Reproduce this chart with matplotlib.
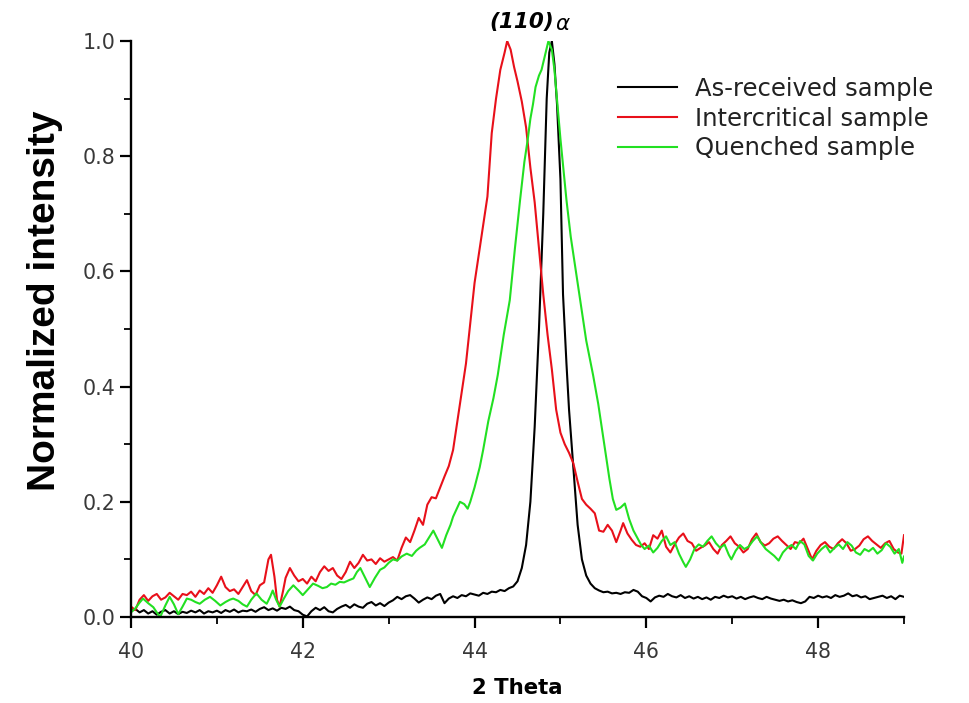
import matplotlib
matplotlib.use("Agg")
import matplotlib.pyplot as plt
from matplotlib.ticker import MultipleLocator

# ---------------- data ----------------
asrec_x = [40.00, 40.05, 40.10, 40.15, 40.20, 40.25, 40.30, 40.35, 40.40, 40.45, 40.50, 40.55, 40.60, 40.65,
           40.70, 40.75, 40.80, 40.85, 40.90, 40.95, 41.00, 41.05, 41.10, 41.15, 41.20, 41.25, 41.30, 41.35,
           41.40, 41.45, 41.50, 41.55, 41.60, 41.65, 41.70, 41.75, 41.80, 41.85, 41.90, 41.95, 42.00, 42.05,
           42.10, 42.15, 42.20, 42.25, 42.30, 42.35, 42.40, 42.45, 42.50, 42.55, 42.60, 42.65, 42.70, 42.75,
           42.80, 42.85, 42.90, 42.95, 43.00, 43.05, 43.10, 43.15, 43.20, 43.25, 43.30, 43.35, 43.40, 43.45,
           43.50, 43.55, 43.60, 43.65, 43.70, 43.75, 43.80, 43.85, 43.90, 43.95, 44.00, 44.05, 44.10, 44.15,
           44.20, 44.25, 44.30, 44.35, 44.40, 44.45, 44.50, 44.55, 44.60, 44.65, 44.70, 44.75, 44.80, 44.84,
           44.87, 44.90, 44.93, 44.96, 45.00, 45.03, 45.07, 45.10, 45.15, 45.20, 45.25, 45.30, 45.35, 45.40,
           45.45, 45.50, 45.55, 45.60, 45.65, 45.70, 45.75, 45.80, 45.85, 45.90, 45.95, 46.00, 46.05, 46.10,
           46.15, 46.20, 46.25, 46.30, 46.35, 46.40, 46.45, 46.50, 46.55, 46.60, 46.65, 46.70, 46.75, 46.80,
           46.85, 46.90, 46.95, 47.00, 47.05, 47.10, 47.15, 47.20, 47.25, 47.30, 47.35, 47.40, 47.45, 47.50,
           47.55, 47.60, 47.65, 47.70, 47.75, 47.80, 47.85, 47.90, 47.95, 48.00, 48.05, 48.10, 48.15, 48.20,
           48.25, 48.30, 48.35, 48.40, 48.45, 48.50, 48.55, 48.60, 48.65, 48.70, 48.75, 48.80, 48.85, 48.90,
           48.95, 49.00]
asrec_y = [0.010, 0.014, 0.008, 0.012, 0.006, 0.010, 0.004, 0.009, 0.012, 0.006, 0.010, 0.005, 0.009, 0.007,
           0.011, 0.008, 0.012, 0.006, 0.010, 0.008, 0.011, 0.007, 0.012, 0.009, 0.013, 0.008, 0.011, 0.010,
           0.013, 0.009, 0.014, 0.017, 0.012, 0.015, 0.011, 0.016, 0.014, 0.018, 0.012, 0.010, 0.004, 0.001,
           0.010, 0.016, 0.012, 0.017, 0.010, 0.008, 0.014, 0.018, 0.021, 0.016, 0.022, 0.018, 0.016, 0.023,
           0.026, 0.020, 0.024, 0.019, 0.025, 0.029, 0.035, 0.031, 0.036, 0.038, 0.032, 0.025, 0.030, 0.034,
           0.031, 0.037, 0.040, 0.024, 0.032, 0.036, 0.033, 0.038, 0.036, 0.041, 0.039, 0.037, 0.042, 0.040,
           0.044, 0.043, 0.047, 0.045, 0.050, 0.053, 0.062, 0.085, 0.125, 0.200, 0.330, 0.500, 0.700, 0.900,
           0.980, 1.000, 0.960, 0.890, 0.760, 0.560, 0.440, 0.360, 0.260, 0.160, 0.100, 0.072, 0.058, 0.050,
           0.046, 0.043, 0.044, 0.041, 0.042, 0.040, 0.043, 0.042, 0.047, 0.044, 0.036, 0.033, 0.027, 0.034,
           0.037, 0.035, 0.040, 0.036, 0.034, 0.038, 0.033, 0.036, 0.032, 0.035, 0.031, 0.034, 0.030, 0.035,
           0.033, 0.037, 0.034, 0.036, 0.032, 0.035, 0.031, 0.034, 0.036, 0.033, 0.031, 0.035, 0.032, 0.030,
           0.028, 0.030, 0.027, 0.029, 0.026, 0.024, 0.027, 0.035, 0.033, 0.037, 0.034, 0.036, 0.033, 0.038,
           0.035, 0.037, 0.041, 0.036, 0.038, 0.034, 0.036, 0.031, 0.033, 0.035, 0.037, 0.033, 0.036, 0.031,
           0.037, 0.035]

inter_x = [40.00, 40.05, 40.10, 40.15, 40.20, 40.25, 40.30, 40.35, 40.40, 40.45, 40.50, 40.55, 40.60, 40.65,
           40.70, 40.75, 40.80, 40.85, 40.90, 40.95, 41.00, 41.05, 41.10, 41.15, 41.20, 41.25, 41.30, 41.35,
           41.40, 41.45, 41.50, 41.55, 41.60, 41.63, 41.67, 41.70, 41.73, 41.77, 41.80, 41.85, 41.90, 41.95,
           42.00, 42.05, 42.10, 42.15, 42.20, 42.25, 42.30, 42.35, 42.40, 42.45, 42.50, 42.55, 42.60, 42.65,
           42.70, 42.75, 42.80, 42.85, 42.90, 42.95, 43.00, 43.05, 43.10, 43.15, 43.20, 43.25, 43.30, 43.35,
           43.40, 43.45, 43.50, 43.55, 43.60, 43.65, 43.70, 43.75, 43.80, 43.85, 43.90, 43.95, 44.00, 44.05,
           44.10, 44.15, 44.20, 44.25, 44.30, 44.35, 44.38, 44.42, 44.46, 44.50, 44.55, 44.60, 44.65, 44.70,
           44.75, 44.80, 44.85, 44.90, 44.95, 45.00, 45.05, 45.10, 45.15, 45.20, 45.25, 45.30, 45.35, 45.40,
           45.45, 45.50, 45.55, 45.60, 45.65, 45.70, 45.73, 45.78, 45.83, 45.88, 45.93, 45.98, 46.03, 46.08,
           46.13, 46.18, 46.23, 46.28, 46.33, 46.38, 46.43, 46.48, 46.53, 46.58, 46.63, 46.68, 46.73, 46.78,
           46.83, 46.88, 46.93, 46.98, 47.03, 47.08, 47.13, 47.18, 47.23, 47.28, 47.33, 47.38, 47.43, 47.48,
           47.53, 47.58, 47.63, 47.68, 47.73, 47.78, 47.83, 47.88, 47.93, 47.98, 48.03, 48.08, 48.13, 48.18,
           48.23, 48.28, 48.33, 48.38, 48.43, 48.48, 48.53, 48.58, 48.63, 48.68, 48.73, 48.78, 48.83, 48.88,
           48.93, 48.97, 49.00]
inter_y = [0.018, 0.012, 0.030, 0.038, 0.028, 0.036, 0.040, 0.030, 0.034, 0.042, 0.036, 0.030, 0.040, 0.038,
           0.044, 0.035, 0.046, 0.040, 0.050, 0.042, 0.055, 0.070, 0.052, 0.045, 0.048, 0.040, 0.052, 0.064,
           0.045, 0.038, 0.055, 0.060, 0.100, 0.108, 0.070, 0.030, 0.018, 0.045, 0.068, 0.085, 0.072, 0.062,
           0.066, 0.058, 0.070, 0.062, 0.078, 0.088, 0.080, 0.085, 0.072, 0.066, 0.078, 0.096, 0.085, 0.094,
           0.108, 0.098, 0.100, 0.092, 0.102, 0.096, 0.100, 0.104, 0.098, 0.120, 0.138, 0.130, 0.150, 0.172,
           0.160, 0.195, 0.208, 0.206, 0.225, 0.244, 0.262, 0.290, 0.340, 0.390, 0.440, 0.510, 0.580, 0.630,
           0.680, 0.730, 0.840, 0.900, 0.950, 0.980, 1.000, 0.985, 0.955, 0.930, 0.895, 0.850, 0.780, 0.720,
           0.640, 0.560, 0.490, 0.430, 0.360, 0.320, 0.300, 0.285, 0.267, 0.235, 0.205, 0.195, 0.188, 0.180,
           0.150, 0.148, 0.160, 0.150, 0.130, 0.150, 0.163, 0.145, 0.134, 0.125, 0.122, 0.128, 0.118, 0.142,
           0.136, 0.150, 0.122, 0.112, 0.126, 0.138, 0.145, 0.132, 0.128, 0.115, 0.120, 0.124, 0.130, 0.118,
           0.110, 0.125, 0.132, 0.140, 0.128, 0.122, 0.112, 0.118, 0.135, 0.145, 0.130, 0.124, 0.128, 0.136,
           0.140, 0.132, 0.125, 0.118, 0.130, 0.128, 0.136, 0.118, 0.100, 0.115, 0.125, 0.130, 0.122, 0.118,
           0.128, 0.135, 0.128, 0.115, 0.118, 0.124, 0.135, 0.140, 0.132, 0.126, 0.120, 0.128, 0.132, 0.118,
           0.112, 0.110, 0.142]

quench_x = [40.00, 40.05, 40.10, 40.14, 40.20, 40.26, 40.30, 40.34, 40.40, 40.45, 40.50, 40.55, 40.60, 40.65,
            40.70, 40.75, 40.80, 40.86, 40.92, 40.98, 41.04, 41.10, 41.15, 41.19, 41.25, 41.30, 41.35, 41.40,
            41.46, 41.52, 41.58, 41.62, 41.65, 41.69, 41.73, 41.78, 41.83, 41.89, 41.95, 42.00, 42.06, 42.12,
            42.18, 42.23, 42.28, 42.33, 42.38, 42.43, 42.48, 42.54, 42.59, 42.63, 42.67, 42.72, 42.78, 42.84,
            42.90, 42.95, 43.00, 43.05, 43.10, 43.15, 43.21, 43.27, 43.32, 43.36, 43.42, 43.47, 43.52, 43.57,
            43.62, 43.67, 43.72, 43.75, 43.80, 43.83, 43.88, 43.92, 43.95, 44.00, 44.06, 44.10, 44.16, 44.22,
            44.27, 44.34, 44.41, 44.47, 44.53, 44.58, 44.62, 44.65, 44.68, 44.71, 44.75, 44.78, 44.82, 44.86,
            44.90, 44.93, 44.96, 45.00, 45.04, 45.07, 45.12, 45.18, 45.23, 45.30, 45.38, 45.44, 45.49, 45.53,
            45.57, 45.61, 45.65, 45.70, 45.75, 45.80, 45.85, 45.89, 45.94, 45.98, 46.03, 46.08, 46.13, 46.18,
            46.23, 46.28, 46.33, 46.38, 46.43, 46.46, 46.51, 46.56, 46.61, 46.66, 46.71, 46.76, 46.81, 46.86,
            46.91, 46.96, 46.99, 47.04, 47.09, 47.14, 47.19, 47.24, 47.29, 47.34, 47.39, 47.44, 47.49, 47.54,
            47.59, 47.64, 47.69, 47.74, 47.79, 47.84, 47.89, 47.94, 47.99, 48.04, 48.09, 48.14, 48.19, 48.24,
            48.29, 48.34, 48.39, 48.44, 48.49, 48.54, 48.59, 48.64, 48.69, 48.74, 48.79, 48.84, 48.89, 48.94,
            48.98, 49.00]
quench_y = [0.008, 0.015, 0.025, 0.032, 0.024, 0.017, 0.008, 0.000, 0.020, 0.035, 0.022, 0.005, 0.018, 0.032,
            0.030, 0.026, 0.023, 0.030, 0.035, 0.028, 0.020, 0.026, 0.030, 0.032, 0.028, 0.022, 0.018, 0.030,
            0.041, 0.030, 0.023, 0.035, 0.046, 0.030, 0.018, 0.032, 0.045, 0.055, 0.046, 0.038, 0.048, 0.058,
            0.054, 0.050, 0.052, 0.058, 0.056, 0.061, 0.060, 0.064, 0.067, 0.078, 0.085, 0.070, 0.052, 0.068,
            0.082, 0.086, 0.094, 0.100, 0.098, 0.105, 0.110, 0.106, 0.115, 0.120, 0.126, 0.138, 0.150, 0.135,
            0.120, 0.142, 0.160, 0.174, 0.190, 0.200, 0.196, 0.188, 0.200, 0.225, 0.260, 0.290, 0.340, 0.380,
            0.420, 0.490, 0.550, 0.640, 0.724, 0.790, 0.830, 0.865, 0.890, 0.920, 0.940, 0.950, 0.975, 1.000,
            0.985, 0.950, 0.898, 0.830, 0.770, 0.724, 0.660, 0.600, 0.550, 0.480, 0.420, 0.370, 0.320, 0.280,
            0.240, 0.205, 0.186, 0.190, 0.197, 0.170, 0.150, 0.139, 0.125, 0.118, 0.124, 0.112, 0.120, 0.132,
            0.140, 0.125, 0.130, 0.110, 0.095, 0.087, 0.100, 0.118, 0.126, 0.122, 0.132, 0.140, 0.128, 0.120,
            0.126, 0.108, 0.100, 0.115, 0.125, 0.118, 0.122, 0.132, 0.140, 0.128, 0.118, 0.112, 0.106, 0.098,
            0.112, 0.120, 0.125, 0.118, 0.132, 0.126, 0.106, 0.098, 0.110, 0.118, 0.124, 0.112, 0.120, 0.126,
            0.118, 0.130, 0.124, 0.112, 0.108, 0.118, 0.114, 0.120, 0.110, 0.116, 0.128, 0.122, 0.110, 0.118,
            0.094, 0.105]

series_labels = ["As-received sample", "Intercritical sample", "Quenched sample"]
series_colors = ["#000000", "#e8101a", "#22e022"]
x_ticks = [40, 42, 44, 46, 48]
y_ticks = [0.0, 0.2, 0.4, 0.6, 0.8, 1.0]
peak_plane = "(110)"
peak_phase = "\u03b1"

# ---------------- figure ----------------
W, H = 969, 703
fig = plt.figure(figsize=(W / 100, H / 100), dpi=100)
ax = fig.add_axes([131 / W, 1 - 617 / H, (904 - 131) / W, (617 - 41) / H])

for xs, ys, lab, col in zip([asrec_x, inter_x, quench_x], [asrec_y, inter_y, quench_y],
                            series_labels, series_colors):
    ax.plot(xs, ys, color=col, lw=1.5, label=lab)

ax.set_xlim(40, 49)
ax.set_ylim(0, 1.0)
ax.set_xticks(x_ticks)
ax.set_yticks(y_ticks)
ax.set_yticklabels([f"{v:.1f}" for v in y_ticks])
ax.xaxis.set_minor_locator(MultipleLocator(1))
ax.yaxis.set_minor_locator(MultipleLocator(0.1))
for s in ["top", "right"]:
    ax.spines[s].set_visible(False)
for s in ["left", "bottom"]:
    ax.spines[s].set_linewidth(1.7)
ax.tick_params(which="major", direction="out", length=8, width=1.6, labelsize=14.8,
               labelcolor="#383838", labelfontfamily="DejaVu Sans")
ax.tick_params(which="minor", direction="out", length=5, width=1.3)
ax.tick_params(axis="y", which="major", pad=3)
ax.tick_params(axis="x", which="major", pad=10)

fig.text(45 / W, 1 - 301 / H, "Normalized intensity", rotation=90, ha="center", va="center",
         fontsize=28, fontweight="bold", family="Liberation Sans")
fig.text(517 / W, 1 - 688 / H, "2 Theta", ha="center", va="center",
         fontsize=15.3, fontweight="bold", family="DejaVu Sans")

# peak label: bold-italic Miller indices followed by an italic alpha
ax.text(44.925, 1.033, peak_plane, ha="right", va="center", fontsize=15.5, fontweight="bold",
        fontstyle="italic", family="DejaVu Sans", clip_on=False)
ax.text(44.94, 1.030, peak_phase, ha="left", va="center", fontsize=15.5,
        fontstyle="italic", family="DejaVu Sans", clip_on=False)

leg = ax.legend(loc="upper left", bbox_to_anchor=(618 / W, 1 - 77 / H), bbox_transform=fig.transFigure,
                frameon=False, fontsize=17.5, handlelength=2.43, handletextpad=0.74, labelspacing=0.23,
                borderaxespad=0, borderpad=0)
for t in leg.get_texts():
    t.set_color("#222222")

fig.savefig("out.png", dpi=100)
